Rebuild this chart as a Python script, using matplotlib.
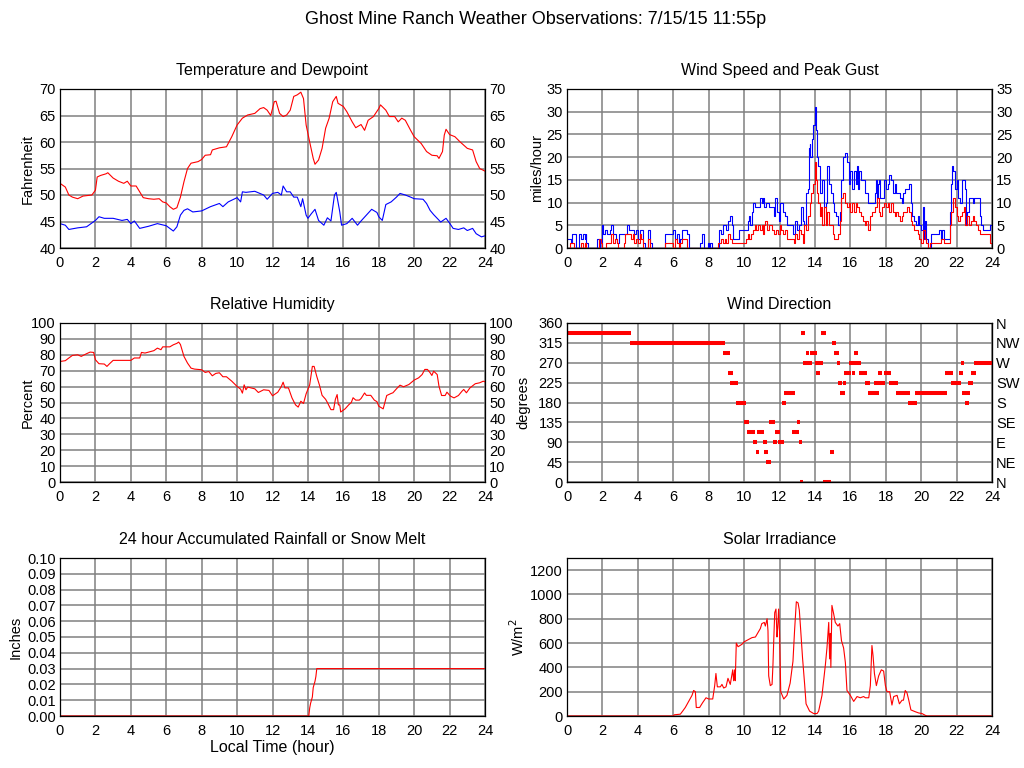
import numpy as np
import matplotlib
matplotlib.use("Agg")
import matplotlib.pyplot as plt

plt.rcParams['font.family'] = ['Liberation Sans', 'DejaVu Sans']
plt.rcParams['font.size'] = 10.5

# ---- data ----
temp_t = [0, 0.3, 0.5, 0.7, 1.0, 1.3, 1.8, 2.0, 2.1, 2.3, 2.6, 2.7, 3.0, 3.3, 3.6, 3.8, 4.0, 4.3,
          4.5, 4.7, 5.0, 5.3, 5.6, 5.8, 6.0, 6.2, 6.4, 6.6, 6.8, 7.0, 7.2, 7.4, 7.8, 8.0, 8.2, 8.5,
          8.6, 9.0, 9.4, 9.7, 10.0, 10.3, 10.6, 11.0, 11.3, 11.5, 11.7, 11.9, 12.1, 12.2, 12.4,
          12.6, 12.8, 13.0, 13.2, 13.4, 13.6, 13.75, 13.9, 14.1, 14.3, 14.4, 14.6, 14.8, 15.0,
          15.2, 15.4, 15.6, 15.7, 16.0, 16.2, 16.5, 16.7, 17.0, 17.2, 17.4, 17.7, 18.0, 18.1,
          18.4, 18.6, 18.9, 19.1, 19.3, 19.5, 19.8, 20.0, 20.4, 20.7, 21.0, 21.3, 21.4, 21.6,
          21.7, 21.8, 22.0, 22.3, 22.6, 23.0, 23.3, 23.5, 23.7, 24.0]
temp_f = [52.2, 51.5, 50.0, 49.6, 49.3, 49.8, 50.0, 50.9, 53.4, 53.7, 54.0, 54.2, 53.2, 52.6,
          52.2, 52.6, 51.7, 51.7, 50.6, 49.5, 49.3, 49.2, 49.3, 48.7, 48.5, 47.8, 47.3, 47.6,
          49.6, 52.5, 55.0, 56.0, 56.3, 56.7, 57.5, 57.6, 58.5, 58.9, 59.1, 61.0, 63.2, 64.5,
          65.1, 65.4, 66.3, 66.5, 66.0, 65.0, 67.6, 67.7, 65.4, 64.8, 65.1, 66.0, 68.6, 68.9,
          69.4, 68.2, 63.2, 60.0, 56.9, 55.8, 56.6, 58.8, 62.6, 64.5, 67.6, 68.6, 67.3, 66.7,
          65.7, 63.8, 62.7, 63.3, 62.2, 64.1, 64.8, 66.3, 67.0, 66.0, 64.8, 64.8, 63.8, 64.5,
          64.1, 62.2, 61.0, 59.7, 58.2, 57.5, 57.4, 56.9, 58.2, 61.3, 62.4, 61.4, 61.0, 60.0,
          58.8, 58.5, 56.3, 55.0, 54.5]

dew_t = [0, 0.3, 0.5, 1.0, 1.5, 2.0, 2.2, 2.5, 3.0, 3.5, 3.8, 4.0, 4.2, 4.5, 5.0, 5.5, 6.0,
         6.4, 6.6, 6.8, 7.0, 7.2, 7.5, 8.0, 8.5, 9.0, 9.2, 9.5, 10.0, 10.2, 10.3, 10.5, 11.0,
         11.5, 11.7, 12.0, 12.3, 12.5, 12.6, 12.8, 13.0, 13.2, 13.4, 13.6, 13.7, 13.9, 14.0,
         14.2, 14.4, 14.6, 14.9, 15.1, 15.3, 15.5, 15.6, 15.8, 15.9, 16.2, 16.5, 16.8, 17.0,
         17.3, 17.6, 17.9, 18.0, 18.2, 18.4, 18.7, 19.0, 19.2, 19.5, 19.8, 20.0, 20.5, 20.7,
         20.9, 21.1, 21.3, 21.5, 21.8, 22.0, 22.2, 22.5, 22.8, 23.0, 23.3, 23.5, 23.8, 24.0]
dew_f = [44.6, 44.3, 43.5, 43.8, 44.0, 45.2, 45.9, 45.6, 45.6, 45.2, 45.4, 44.6, 45.1, 43.7,
         44.1, 44.6, 44.2, 43.2, 44.0, 46.2, 47.1, 47.4, 46.8, 47.0, 47.8, 48.4, 47.8, 48.7,
         49.5, 48.7, 50.6, 50.5, 50.7, 50.0, 49.2, 50.3, 50.5, 50.0, 51.7, 50.6, 50.6, 49.6,
         49.6, 47.8, 49.3, 46.2, 45.6, 46.5, 47.3, 45.2, 44.3, 45.7, 45.1, 50.0, 50.5, 46.8,
         44.3, 44.6, 45.6, 44.3, 45.1, 46.2, 47.3, 46.7, 45.9, 45.2, 48.2, 48.7, 49.6, 50.3,
         50.0, 49.6, 49.3, 49.2, 48.4, 47.1, 46.3, 45.6, 44.9, 45.6, 44.7, 43.7, 43.5, 43.8,
         43.3, 43.7, 42.7, 42.1, 42.3]

gust_t = [0, 0.25, 0.3, 0.5, 0.65, 0.8, 0.9, 1.0, 1.05, 1.1, 1.2, 1.7, 1.85, 1.95, 2.05, 2.15,
          2.25, 2.4, 2.5, 2.6, 2.75, 2.85, 2.95, 3.4, 3.5, 3.8, 3.9, 4.0, 4.1, 4.3, 4.4, 4.6,
          4.7, 4.8, 5.55, 6.0, 6.1, 6.2, 6.3, 6.4, 6.5, 6.8, 6.9, 7.5, 7.6, 7.75, 7.95, 8.0,
          8.1, 8.2, 8.6, 8.7, 8.8, 9.0, 9.1, 9.2, 9.3, 9.4, 9.7, 10.2, 10.3, 10.35, 10.45, 10.5,
          10.6, 10.9, 11.0, 11.05, 11.15, 11.25, 11.4, 11.7, 11.75, 11.85, 11.95, 12.0, 12.2,
          12.3, 12.4, 12.75, 12.9, 13.0, 13.1, 13.2, 13.3, 13.4, 13.5, 13.6, 13.65, 13.7, 13.75,
          13.85, 13.9, 14.0, 14.05, 14.1, 14.2, 14.3, 14.4, 14.5, 14.6, 14.7, 14.8, 14.9, 15.0,
          15.1, 15.2, 15.3, 15.4, 15.5, 15.6, 15.7, 15.8, 15.9, 16.0, 16.1, 16.2, 16.3, 16.35,
          16.45, 16.5, 16.6, 16.8, 17.0, 17.4, 17.45, 17.5, 17.55, 17.6, 17.7, 17.9, 18.0, 18.1,
          18.2, 18.3, 18.4, 18.5, 18.6, 18.8, 18.9, 19.0, 19.1, 19.3, 19.4, 19.5, 19.6, 19.7,
          19.8, 19.9, 20.0, 20.1, 20.15, 20.2, 20.3, 20.4, 20.55, 21.0, 21.1, 21.2, 21.3, 21.6,
          21.7, 21.75, 21.8, 21.9, 22.0, 22.1, 22.2, 22.3, 22.5, 22.55, 22.6, 22.7, 22.9, 23.0,
          23.3, 23.4, 23.5, 23.9, 24.0]
gust_mph = [2, 1, 3, 0, 3, 2, 3, 2, 3, 1, 0, 2, 0, 5, 3, 4, 3, 4, 5, 3, 2, 1, 3, 5, 4, 3, 4, 2,
            4, 1, 0, 4, 1, 0, 3, 4, 2, 3, 1, 2, 4, 3, 0, 1, 3, 0, 1, 0, 1, 0, 4, 3, 5, 4, 6, 7,
            5, 2, 4, 6, 7, 5, 8, 10, 9, 11, 10, 11, 9, 10, 9, 7, 11, 8, 6, 10, 8, 7, 5, 3, 6, 4,
            5, 9, 6, 5, 12, 13, 22, 23, 20, 24, 27, 31, 26, 20, 18, 12, 15, 9, 10, 18, 14, 12,
            10, 8, 7, 5, 8, 15, 20, 21, 19, 14, 17, 13, 17, 14, 18, 13, 17, 15, 12, 10, 12, 15,
            11, 14, 15, 11, 15, 13, 14, 16, 15, 12, 14, 12, 11, 10, 12, 13, 14, 10, 7, 6, 5, 7,
            5, 4, 9, 2, 6, 2, 0, 3, 4, 2, 4, 2, 8, 14, 18, 17, 13, 15, 11, 10, 15, 13, 5, 8, 11,
            10, 11, 7, 5, 4, 5, 2]

speed_t = [0, 0.15, 0.4, 0.8, 0.9, 1.0, 1.1, 1.8, 1.9, 2.0, 2.2, 2.5, 2.6, 2.7, 2.8, 2.9, 3.2,
           3.3, 3.6, 3.7, 3.8, 3.9, 4.0, 4.1, 4.2, 4.3, 4.6, 4.7, 5.55, 6.0, 6.1, 6.2, 6.3, 6.4,
           6.5, 6.8, 8.5, 8.7, 8.8, 8.9, 9.0, 9.1, 9.2, 9.3, 10.1, 10.2, 10.3, 10.4, 10.5, 10.6,
           10.7, 10.8, 10.9, 11.0, 11.05, 11.1, 11.2, 11.3, 11.4, 11.6, 11.7, 11.8, 11.9, 12.0,
           12.1, 12.2, 12.3, 12.4, 12.8, 12.9, 13.0, 13.1, 13.2, 13.3, 13.4, 13.5, 13.6, 13.7,
           13.8, 13.9, 14.0, 14.05, 14.1, 14.2, 14.3, 14.35, 14.4, 14.5, 14.6, 14.7, 14.8, 15.0,
           15.1, 15.3, 15.4, 15.5, 15.6, 15.7, 15.8, 15.9, 16.0, 16.1, 16.2, 16.3, 16.4, 16.5,
           16.6, 16.7, 16.8, 16.9, 17.0, 17.1, 17.2, 17.4, 17.5, 17.6, 17.7, 17.8, 17.9, 18.0,
           18.1, 18.2, 18.3, 18.4, 18.5, 18.6, 18.7, 18.8, 18.9, 19.0, 19.2, 19.3, 19.4, 19.5,
           19.6, 19.8, 19.9, 20.0, 20.1, 20.2, 20.3, 20.4, 20.5, 21.1, 21.3, 21.6, 21.7, 21.8,
           21.9, 22.0, 22.1, 22.2, 22.3, 22.4, 22.5, 22.6, 22.7, 22.8, 22.9, 23.0, 23.1, 23.2,
           23.3, 23.9, 24.0]
speed_mph = [0, 1, 0, 1, 0, 1, 0, 2, 1, 0, 1, 3, 1, 2, 1, 0, 1, 3, 2, 3, 1, 2, 1, 3, 2, 0, 2,
             0, 1, 0, 2, 1, 0, 1, 2, 0, 1, 2, 1, 2, 1, 3, 2, 1, 2, 3, 2, 3, 4, 5, 4, 5, 4, 5, 3,
             5, 6, 4, 5, 4, 3, 4, 3, 5, 4, 3, 4, 2, 1, 3, 2, 4, 3, 1, 5, 4, 7, 10, 12, 14, 19, 15,
             12, 10, 7, 9, 5, 9, 5, 8, 5, 3, 2, 3, 6, 11, 12, 10, 9, 10, 8, 10, 8, 10, 9, 8, 7,
             6, 5, 6, 4, 7, 8, 9, 11, 8, 7, 9, 10, 9, 10, 8, 10, 8, 7, 8, 7, 6, 7, 8, 9, 8, 6, 5,
             4, 3, 2, 1, 4, 2, 1, 0, 1, 2, 1, 5, 8, 11, 9, 7, 6, 7, 8, 9, 5, 7, 5, 6, 7, 6, 5, 4,
             3, 1, 0]

rh_t = [0, 0.3, 0.5, 0.7, 1.0, 1.2, 1.5, 1.7, 1.9, 2.0, 2.2, 2.5, 2.65, 2.8, 3.0, 4.0, 4.2,
        4.5, 4.6, 4.8, 5.0, 5.3, 5.5, 5.7, 5.8, 6.2, 6.4, 6.6, 6.7, 6.8, 7.0, 7.2, 7.4, 7.6,
        8.0, 8.2, 8.4, 8.6, 8.8, 9.0, 9.2, 9.4, 9.7, 10.0, 10.2, 10.3, 10.4, 10.5, 10.6, 11.0,
        11.2, 11.5, 11.8, 12.0, 12.3, 12.5, 12.6, 12.7, 12.9, 13.1, 13.3, 13.45, 13.6, 13.75,
        13.9, 14.1, 14.25, 14.35, 14.5, 14.65, 14.8, 15.0, 15.1, 15.3, 15.45, 15.55, 15.65,
        15.72, 15.8, 15.85, 16.1, 16.3, 16.45, 16.55, 16.7, 16.9, 17.0, 17.2, 17.3, 17.55,
        17.75, 17.9, 18.0, 18.25, 18.45, 18.7, 18.8, 19.0, 19.2, 19.4, 19.7, 20.0, 20.25,
        20.45, 20.6, 20.75, 20.9, 21.0, 21.1, 21.3, 21.4, 21.55, 21.75, 21.85, 22.05, 22.25,
        22.5, 22.7, 22.8, 22.95, 23.15, 23.45, 23.7, 23.9, 24.0]
rh_pct = [75.8, 76.3, 78.0, 79.6, 80.0, 79.0, 80.7, 81.7, 81.5, 76.9, 74.4, 74.2, 72.7, 74.4,
          76.5, 76.5, 78.0, 78.0, 81.5, 81.1, 81.7, 82.6, 84.2, 83.2, 85.0, 85.0, 86.3, 87.2,
          88.0, 86.5, 79.0, 74.8, 71.6, 71.0, 70.6, 68.9, 69.5, 66.8, 68.3, 68.7, 66.2, 66.2,
          63.4, 60.1, 58.4, 55.9, 61.1, 58.0, 59.7, 58.6, 56.3, 58.0, 57.6, 54.2, 56.5, 60.1,
          62.8, 59.2, 59.2, 52.9, 48.5, 47.1, 50.8, 49.4, 55.5, 61.1, 72.7, 72.7, 66.4, 61.0,
          54.5, 52.0, 50.0, 45.5, 45.5, 52.0, 55.0, 48.5, 48.5, 44.0, 46.0, 48.5, 50.0, 53.0,
          51.5, 51.5, 52.5, 56.0, 54.5, 54.5, 51.5, 50.5, 47.7, 46.0, 54.4, 55.7, 56.1, 58.6,
          60.9, 59.9, 61.3, 64.1, 65.5, 67.6, 70.8, 70.8, 68.7, 67.0, 69.7, 67.6, 60.3, 54.4,
          54.4, 56.5, 54.0, 52.9, 54.4, 57.1, 58.2, 56.1, 59.2, 61.8, 62.4, 63.4, 63.0]

# wind direction: (start hour, end hour, degrees)
dir_start = [0, 3.58, 8.8, 9.1, 9.2, 9.55, 10.0, 10.15, 10.5, 10.67, 10.73, 11.07, 11.15, 11.24,
             11.4, 11.63, 11.75, 11.92, 12.12, 12.25, 12.7, 13.0, 13.1, 13.16, 13.2, 13.33, 13.5,
             13.72, 13.98, 14.06, 14.34, 14.44, 14.85, 14.95, 15.08, 15.23, 15.3, 15.42, 15.58,
             15.64, 15.94, 16.08, 16.2, 16.49, 16.81, 16.98, 17.32, 17.54, 17.9, 18.18, 18.56,
             19.24, 19.63, 21.33, 21.67, 22.12, 22.23, 22.3, 22.45, 22.63, 22.8, 22.96]
dir_end = [3.63, 8.9, 9.2, 9.35, 9.65, 10.1, 10.25, 10.6, 10.75, 10.85, 11.15, 11.3, 11.35,
           11.52, 11.73, 11.86, 12.0, 12.24, 12.37, 12.87, 13.08, 13.16, 13.25, 13.33, 13.44,
           13.82, 13.67, 14.1, 14.46, 14.29, 14.63, 14.9, 15.08, 15.17, 15.36, 15.42, 15.53,
           15.68, 15.76, 16.02, 16.6, 16.25, 16.41, 16.92, 17.09, 17.62, 17.98, 17.79, 18.3,
           18.69, 19.35, 19.75, 21.44, 21.8, 22.25, 22.34, 22.4, 22.76, 22.68, 22.93, 23.08, 24.0]
dir_deg = [337.5, 315, 292.5, 247.5, 225, 180, 135, 112.5, 90, 67.5, 112.5, 90, 67.5, 45, 135,
           90, 112.5, 90, 180, 202.5, 112.5, 135, 90, 0, 337.5, 270, 292.5, 292.5, 270, 247.5,
           337.5, 0, 67.5, 315, 292.5, 270, 225, 202.5, 225, 247.5, 270, 247.5, 292.5, 247.5,
           225, 202.5, 225, 247.5, 247.5, 225, 202.5, 180, 202.5, 247.5, 225, 247.5, 270, 202.5,
           180, 225, 247.5, 270]
compass = ['N', 'NE', 'E', 'SE', 'S', 'SW', 'W', 'NW', 'N']

rain_t = [0, 14.05, 14.1, 14.15, 14.2, 14.25, 14.3, 14.35, 14.4, 14.45, 14.5, 24]
rain_in = [0, 0, 0.005, 0.008, 0.01, 0.012, 0.018, 0.02, 0.022, 0.025, 0.03, 0.03]

sol_t = [0, 6.0, 6.06, 6.4, 6.53, 6.68, 6.87, 7.06, 7.15, 7.25, 7.3, 7.49, 7.66, 7.85, 8.0,
         8.23, 8.34, 8.41, 8.49, 8.66, 8.75, 8.85, 8.98, 9.09, 9.22, 9.36, 9.41, 9.47, 9.5, 9.56,
         9.66, 9.88, 10.0, 10.45, 10.64, 10.92, 11.0, 11.14, 11.2, 11.3, 11.35, 11.39, 11.48,
         11.58, 11.63, 11.67, 11.73, 11.8, 11.86, 11.9, 11.95, 12.0, 12.07, 12.24, 12.42, 12.6,
         12.76, 12.85, 12.95, 13.05, 13.12, 13.2, 13.3, 13.42, 13.5, 13.7, 13.93, 14.12, 14.21,
         14.4, 14.59, 14.68, 14.78, 14.83, 14.87, 14.9, 14.96, 15.06, 15.15, 15.3, 15.4, 15.5,
         15.62, 15.72, 15.81, 16.0, 16.19, 16.38, 16.56, 16.75, 16.85, 17.04, 17.13, 17.22,
         17.28, 17.36, 17.47, 17.6, 17.75, 17.88, 17.98, 18.07, 18.22, 18.35, 18.45, 18.64,
         18.77, 18.92, 19.0, 19.1, 19.2, 19.3, 19.42, 19.67, 19.86, 20.05, 20.24, 20.33, 24.0]
sol_wm2 = [0, 0, 10, 15, 40, 70, 120, 170, 210, 200, 70, 70, 110, 150, 140, 140, 250, 350, 240,
           240, 260, 230, 240, 310, 260, 380, 290, 380, 290, 600, 570, 590, 610, 645, 650, 720,
           760, 770, 740, 800, 700, 330, 250, 260, 420, 600, 850, 880, 650, 730, 880, 700, 200,
           140, 170, 270, 450, 700, 940, 930, 870, 700, 480, 260, 100, 40, 20, 20, 40, 170, 420,
           560, 770, 470, 680, 400, 910, 840, 770, 740, 760, 620, 560, 440, 210, 170, 120, 160,
           150, 160, 150, 150, 250, 580, 500, 350, 250, 330, 380, 370, 250, 200, 200, 90, 160,
           170, 100, 130, 130, 210, 190, 130, 50, 35, 25, 20, 5, 0, 0]

hours = list(range(0, 25, 2))

# ---- figure ----
fig = plt.figure(figsize=(10.24, 7.68), dpi=100)
fig.text(0.523, 0.975, 'Ghost Mine Ranch Weather Observations: 7/15/15 11:55p',
         ha='center', va='center', fontsize=13)

W, H = 1024, 768
def panel(left, top, bottom):
    return fig.add_axes([left / W, 1 - bottom / H, 425 / W, (bottom - top) / H])

def style(ax, title, ylabel, ylim, yticks, label_x, right_labels=False):
    ax.set_xlim(0, 24)
    ax.set_xticks(hours)
    ax.set_ylim(*ylim)
    ax.set_yticks(yticks)
    ax.grid(True, color='#808080', linewidth=1.1)
    ax.set_axisbelow(True)
    ax.tick_params(length=0, labelright=right_labels)
    ax.tick_params(axis='y', pad=3)
    ax.tick_params(axis='x', pad=6)
    ax.set_title(title, fontsize=11.5, pad=10)
    ax.set_ylabel(ylabel)
    ax.yaxis.set_label_coords(label_x, 0.5)
    for s in ax.spines.values():
        s.set_linewidth(0.9)

# Temperature and Dewpoint
ax = panel(60, 89, 248)
ax.plot(temp_t, temp_f, color='red', linewidth=0.8)
ax.plot(dew_t, dew_f, color='blue', linewidth=0.8)
style(ax, 'Temperature and Dewpoint', 'Fahrenheit', (40, 70), range(40, 71, 5), -0.059, True)

# Wind speed and gust
ax = panel(567, 89, 248)
ax.plot(gust_t, gust_mph, color='blue', linewidth=0.8, drawstyle='steps-post')
ax.plot(speed_t, speed_mph, color='red', linewidth=0.8, drawstyle='steps-post')
style(ax, 'Wind Speed and Peak Gust', 'miles/hour', (0, 35), range(0, 36, 5), -0.054, True)

# Relative humidity
ax = panel(60, 323, 482)
ax.plot(rh_t, rh_pct, color='red', linewidth=0.8)
style(ax, 'Relative Humidity', 'Percent', (0, 100), range(0, 101, 10), -0.059, True)

# Wind direction
ax = panel(567, 323, 482)
ax.hlines(dir_deg, dir_start, dir_end, color='red', linewidth=2.9)
style(ax, 'Wind Direction', 'degrees', (0, 360), range(0, 361, 45), -0.087)
ax2 = ax.twinx()
ax2.set_ylim(0, 360)
ax2.set_yticks(range(0, 361, 45))
ax2.set_yticklabels(compass)
ax2.tick_params(length=0, pad=3)

# Rainfall
ax = panel(60, 558, 716)
ax.plot(rain_t, rain_in, color='red', linewidth=0.8)
style(ax, '24 hour Accumulated Rainfall or Snow Melt', 'Inches', (0, 0.1),
      np.arange(0, 0.101, 0.01), -0.087)
ax.yaxis.set_major_formatter(matplotlib.ticker.FormatStrFormatter('%.2f'))
ax.set_xlabel('Local Time (hour)', fontsize=11.5, labelpad=1)

# Solar irradiance
ax = panel(567, 558, 716)
ax.plot(sol_t, sol_wm2, color='red', linewidth=0.8)
style(ax, 'Solar Irradiance', 'W/m$^2$', (0, 1300), range(0, 1201, 200), -0.095)

fig.savefig('out.png', dpi=100)
